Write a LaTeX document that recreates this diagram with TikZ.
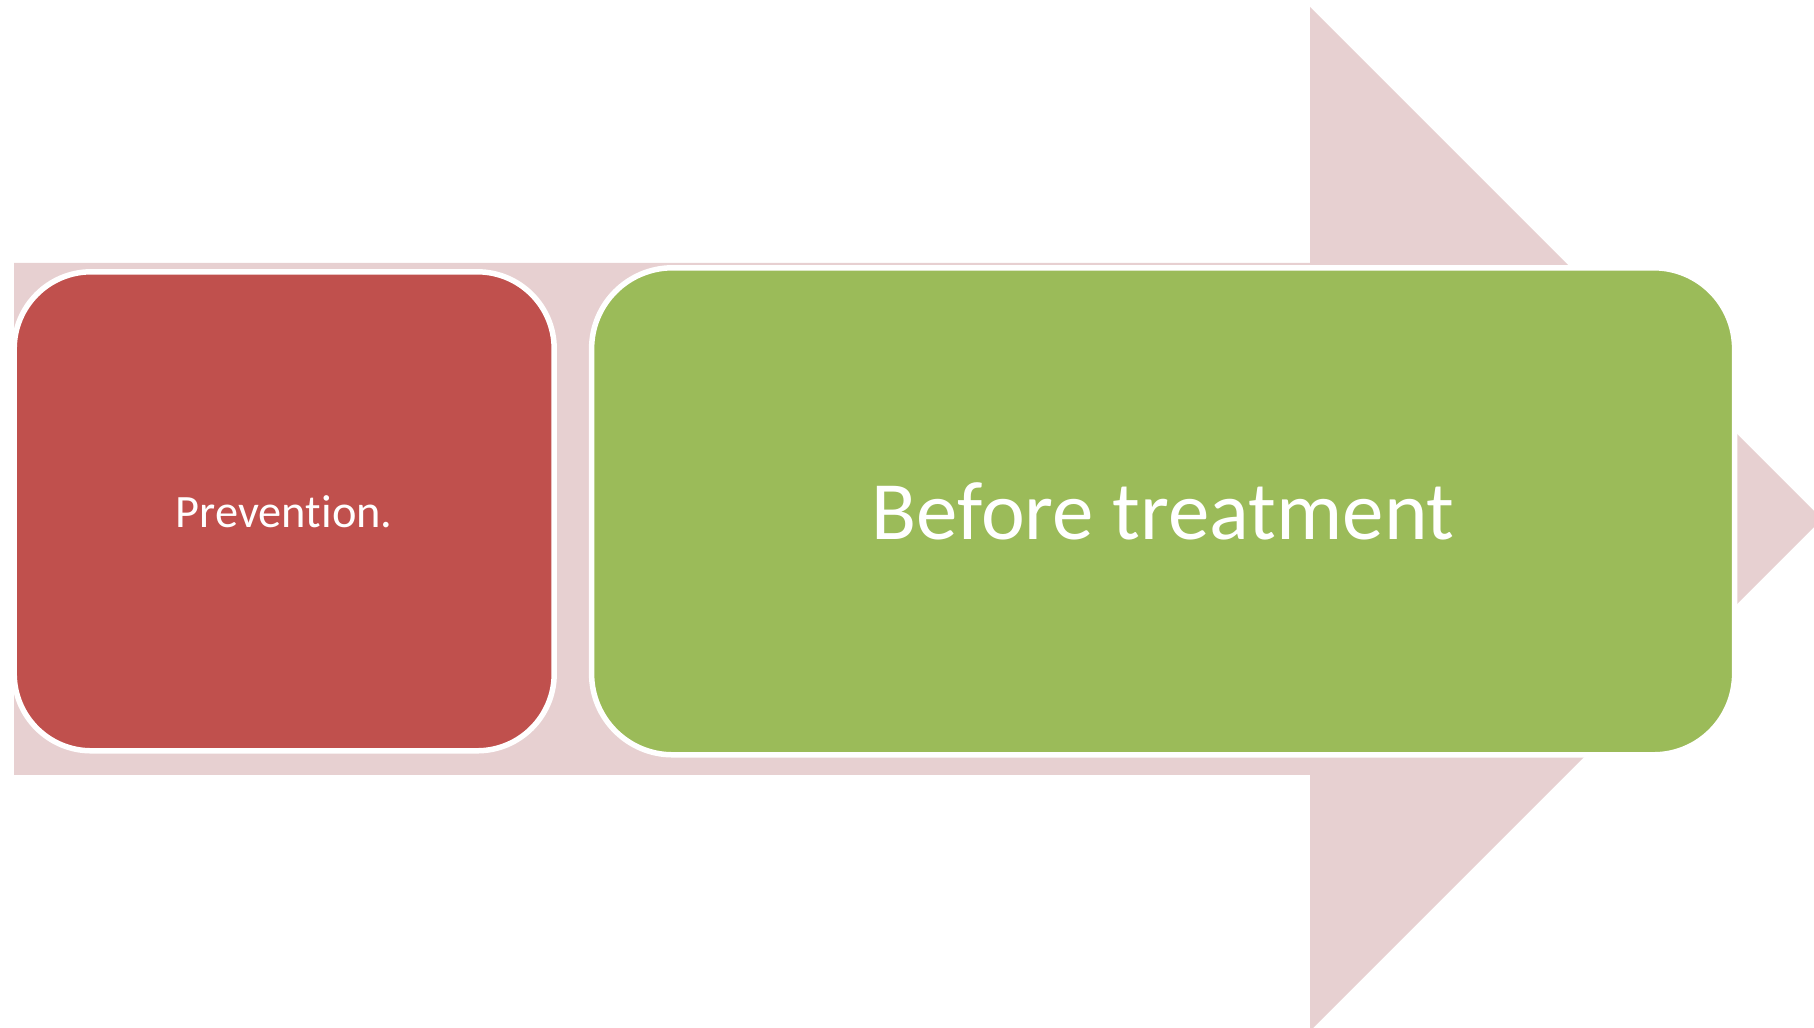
\documentclass[tikz,border=0pt]{standalone}
\usepackage{fontspec}
\setmainfont[Ligatures=NoCommon]{Carlito}
\definecolor{flowpink}{RGB}{231,208,209}
\definecolor{flowred}{RGB}{192,80,77}
\definecolor{flowgreen}{RGB}{155,187,89}
\usepackage{tikz}
\usetikzlibrary{positioning}

\begin{document}
\begin{tikzpicture}[x=0.1mm, y=-0.1mm,
    stage/.style={rectangle, draw=white, line width=0.55mm, align=center,
                  text=white, inner sep=0pt},
    stageA/.style={stage, fill=flowred, rounded corners=7.7mm,
                   font=\fontsize{13.2}{16}\selectfont},
    stageB/.style={stage, fill=flowgreen, rounded corners=8.1mm,
                   font=\fontsize{23.6}{28}\selectfont}
  ]
    \clip (0,0) rectangle (1814,1028);

    % Background arrow
    \fill[flowpink] (14,263) -- (1310,263) -- (1310,7) -- (1822,519)
      -- (1310,1031) -- (1310,775) -- (14,775) -- cycle;

    % Stage 1
    \node[stageA, minimum width=54.0mm, minimum height=47.9mm]
      (prev) at (284.2,511.3) {Prevention.};

    % Stage 2
    \node[stageB, minimum width=114.3mm, minimum height=48.7mm]
      (before) at (1163.1,511.3) {Before treatment};
  \end{tikzpicture}
\end{document}
